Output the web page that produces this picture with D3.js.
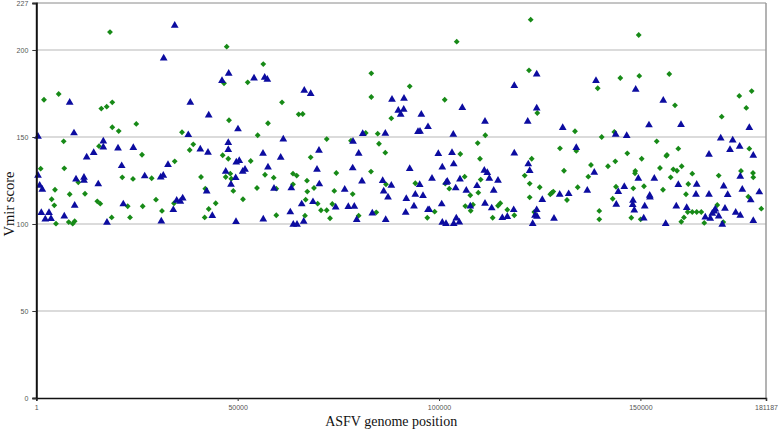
<!DOCTYPE html>
<html><head><meta charset="utf-8">
<script src="https://cdn.jsdelivr.net/npm/d3@7"></script>
<style>
html,body{margin:0;padding:0;background:#fff;}
svg{display:block;}
.tick text{font-family:"Liberation Sans",Arial,sans-serif;font-size:7px;fill:#555;}
</style></head>
<body><svg id="chart" width="778" height="431"></svg>
<script>
// ---- data ----
const xTicks = [1, 50000, 100000, 150000, 181187];
const yTicks = [0, 50, 100, 150, 200, 227];
const gridValues = [50, 100, 150, 200];
const xLabel = "ASFV genome position";
const yLabel = "Vmir score";

// series 1 (blue triangles): genome position, Vmir score
const triPos = [34370,31630,47770,46110,54060,56710,57360,124250,118690,138970,148830,8290,420,9360,16640,16640,14250,12510,20290,24090,21200,420,840,1490,9860,11840,11840,15390,26920,30890,31530,9530,21600,1240,3150,2230,3650,6950,17550,31040,
38240,42810,50080,37740,61330,47670,47670,40720,42630,56290,60680,32700,50400,49660,57530,51820,51250,47030,49510,48340,42310,59020,34860,35760,36350,34020,43700,49590,56360,
66540,68130,88320,91300,89880,90480,91230,81050,86660,78640,70190,80050,78560,69700,92720,80870,86010,88150,70270,63320,76580,86260,87330,91870,68700,65900,74340,77470,78960,93780,63070,83430,91720,79560,86760,66400,63810,64730,
105780,95600,111410,122020,124250,94780,95270,97260,103540,118690,99820,103220,103640,100810,122160,122510,111240,111980,105200,112480,114640,98250,101800,102050,95200,109430,104140,106770,113570,94110,96020,100660,111410,107760,113080,97260,97580,118540,116950,115710,124250,123830,124320,104290,100810,101730,103640,105030,123260,
155680,130710,152130,143860,146600,134080,138550,149480,153450,129960,132190,136810,146000,144510,152310,152380,125640,148160,148090,144010,151070,148480,128550,150820,156280,
160080,177040,169940,172920,174650,172250,167030,178030,174800,159410,163980,170680,175300,163800,167030,171670,179520,177390,158910,161500,167850,168350,168600,171000,173660,166110,167350,169440,174800,170330,178030];
const triScore = [214.4,195.6,186.8,182.6,184.1,184.5,183.3,186.4,179.7,182.6,177.6,170.1,150.6,152.5,147.9,144.4,141.2,138.7,143.8,144.1,133.7,128.2,122.4,120.1,126.0,127.0,125.3,123.2,127.8,127.2,128.2,110.9,111.7,106.7,106.7,103.0,103.3,104.8,101.1,101.9,
170.1,162.8,154.8,151.5,149.0,147.0,142.9,143.3,141.4,140.8,138.5,134.3,136.6,135.8,132.9,131.6,130.5,130.5,126.8,123.0,119.1,120.7,113.8,113.2,115.1,108.4,105.0,101.6,103.0,
177.0,175.1,171.8,172.4,165.5,163.2,166.1,152.1,152.3,147.7,142.5,140.8,132.4,131.6,132.0,124.9,125.1,122.4,123.2,120.9,120.1,119.1,115.7,114.8,113.0,111.7,109.9,110.2,110.3,110.5,107.1,106.5,106.9,102.7,102.7,101.7,100.0,100.0,
167.1,163.2,159.2,159.2,166.8,153.3,153.4,156.1,151.7,141.0,140.6,141.2,134.7,132.9,134.7,130.9,131.0,129.7,126.0,126.4,125.3,126.4,124.1,124.7,122.8,122.2,120.9,119.5,119.5,117.2,116.5,111.7,112.1,110.5,109.4,108.4,108.4,108.4,104.4,103.8,108.4,105.2,104.6,103.6,101.1,100.4,100.4,101.3,100.4,
171.3,155.6,157.1,151.7,151.0,144.1,129.9,126.4,126.4,117.2,117.6,119.5,121.7,118.8,116.7,115.7,114.2,113.8,111.3,111.5,110.5,108.2,103.4,103.6,100.4,
157.3,155.6,149.6,148.4,144.8,142.9,140.2,139.7,127.6,122.8,123.0,122.0,120.1,117.2,117.2,117.1,118.6,114.0,110.5,109.6,106.3,107.6,108.8,109.2,106.9,104.2,103.4,104.8,105.2,100.0,102.1];

// series 2 (green diamonds): genome position, Vmir score
const diaPos = [18300,47280,46610,52490,56360,104390,83180,92720,122760,149580,122340,139400,145010,149720,157170,177630,
1910,5560,16140,17480,18870,18870,20460,24830,6800,15570,26250,1090,6950,10430,21350,24010,28650,4640,8290,12090,3820,4470,15150,15890,22700,26420,29720,31210,4890,8050,9040,9530,18720,23270,
61010,47850,57530,36180,54970,38980,38090,46280,47670,34370,53240,48170,47030,48420,56790,58950,40900,41960,48920,54800,59590,34190,44550,51320,42810,41810,59590,
83180,65150,66150,88150,81790,84770,72110,78140,85090,86660,68130,74490,83110,63740,64660,67210,86830,94110,63740,68950,73990,67290,78560,66890,69870,73500,70690,72110,84420,66720,80050,72930,
101410,124400,111490,109600,105280,110170,123010,106370,110340,121270,101550,122510,102550,125000,109750,107760,122510,115210,114640,106520,108430,107860,98920,116950,118690,113320,123650,97090,
133760,140390,143520,154050,130030,134080,146750,156430,150320,143770,137730,141950,131030,148730,148660,154860,137060,127630,127970,128370,134430,143940,148240,150890,155610,131770,143120,139790,139790,147740,150070,
174550,158590,176290,170190,177040,159410,156600,158170,159090,160250,162880,174980,177960,178030,169440,157520,161890,161320,176790,169090,161740,162880,163980,165120,180020,160820,160150,165860,170580];
const diaScore = [210.3,201.9,180.9,181.4,191.9,204.8,186.6,179.1,217.4,208.6,188.3,178.0,183.9,185.1,186.2,176.4,
171.4,174.7,166.3,167.4,169.9,155.6,153.4,157.5,147.5,144.7,139.8,131.8,132.0,124.0,126.8,125.9,126.3,119.7,117.1,117.4,114.2,110.7,113.0,111.7,110.2,110.2,114.0,107.5,100.2,101.1,100.2,101.6,103.8,103.8,
169.9,159.6,157.9,152.7,151.0,145.8,142.5,139.5,137.5,136.0,136.2,128.9,127.0,126.0,128.3,126.6,127.0,120.3,119.0,120.7,120.3,111.9,111.9,114.2,108.6,103.8,105.0,
173.0,163.0,163.2,160.7,152.3,151.9,148.8,147.9,146.1,141.0,138.3,129.3,130.1,128.9,127.8,124.9,122.8,123.4,122.8,120.7,119.0,118.6,117.2,114.0,111.7,111.5,107.9,107.9,106.7,104.8,104.8,103.3,
171.4,163.8,151.0,146.5,140.2,137.5,137.5,127.2,125.5,127.8,123.2,123.2,120.3,121.1,118.0,116.5,115.3,111.9,110.5,110.3,111.1,107.6,107.1,108.2,105.0,103.6,106.9,103.6,
153.3,150.0,152.9,147.5,143.5,142.0,140.6,139.1,137.5,136.0,133.9,133.2,130.6,130.5,129.1,132.2,127.2,117.1,117.8,118.6,121.1,121.4,120.5,121.7,119.7,113.8,114.5,107.5,102.7,103.6,102.7,
173.6,168.2,166.7,161.7,143.3,143.3,139.7,131.4,130.6,133.2,128.9,130.5,129.3,126.8,127.8,126.8,123.0,117.1,115.7,110.9,106.9,106.9,106.9,106.9,108.8,103.8,101.3,100.6,101.1];

// ---- drawing ----
const W = 778, H = 431;
const m = {left: 36.3, right: 12, top: 3, bottom: 33};
const svg = d3.select("#chart");
const x = d3.scaleLinear().domain([1, 181187]).range([m.left, W - m.right]);
const y = d3.scaleLinear().domain([0, 227]).range([H - m.bottom, m.top]);

// gridlines
svg.append("g").selectAll("line").data(gridValues).join("line")
  .attr("x1", x(1)).attr("x2", x(181187))
  .attr("y1", d => y(d)).attr("y2", d => y(d))
  .attr("stroke", "#cfcfcf").attr("stroke-width", 1.5);

// frame top/right
svg.append("line").attr("x1", x(1)).attr("x2", x(181187)).attr("y1", y(227)).attr("y2", y(227))
  .attr("stroke", "#8a8a8a").attr("stroke-width", 1);
svg.append("line").attr("x1", x(181187)).attr("x2", x(181187)).attr("y1", y(227)).attr("y2", y(0))
  .attr("stroke", "#9a9a9a").attr("stroke-width", 1.5);

// points
const tri = d3.symbol().type(d3.symbolTriangle).size(26);
const dia = d3.symbol().type(d3.symbolSquare).size(17);
const triData = triPos.map((p, i) => [p, triScore[i]]);
const diaData = diaPos.map((p, i) => [p, diaScore[i]]);

svg.append("g").selectAll("path").data(diaData).join("path")
  .attr("d", dia)
  .attr("transform", d => `translate(${x(d[0])},${y(d[1])}) rotate(45)`)
  .attr("fill", "#178a17");
svg.append("g").selectAll("path").data(triData).join("path")
  .attr("d", tri)
  .attr("transform", d => `translate(${x(d[0])},${y(d[1]) + 0.5})`)
  .attr("fill", "#0c0ca0");

// axes
const gy = svg.append("g").attr("transform", `translate(${m.left},0)`)
  .call(d3.axisLeft(y).tickValues(yTicks).tickSize(4).tickPadding(4).tickFormat(d3.format("d")));
gy.select(".domain").attr("stroke", "#111").attr("stroke-width", 2);
gy.selectAll(".tick line").attr("stroke", "#333");

const gx = svg.append("g").attr("transform", `translate(0,${H - m.bottom})`)
  .call(d3.axisBottom(x).tickValues(xTicks).tickSize(3).tickPadding(4).tickFormat(d3.format("d")));
gx.select(".domain").attr("stroke", "#111").attr("stroke-width", 1.5);
gx.selectAll(".tick line").attr("stroke", "#333");

// titles
svg.append("text").attr("x", (x(1) + x(181187)) / 2 - 10).attr("y", 426)
  .attr("text-anchor", "middle")
  .style("font-family", "'Liberation Serif','Times New Roman',serif").style("font-size", "14px").style("fill", "#111")
  .text(xLabel);
svg.append("text").attr("transform", `translate(14,${y(111.5)}) rotate(-90)`)
  .attr("text-anchor", "middle")
  .style("font-family", "'Liberation Serif','Times New Roman',serif").style("font-size", "14.5px").style("fill", "#111")
  .text(yLabel);
</script></body></html>
